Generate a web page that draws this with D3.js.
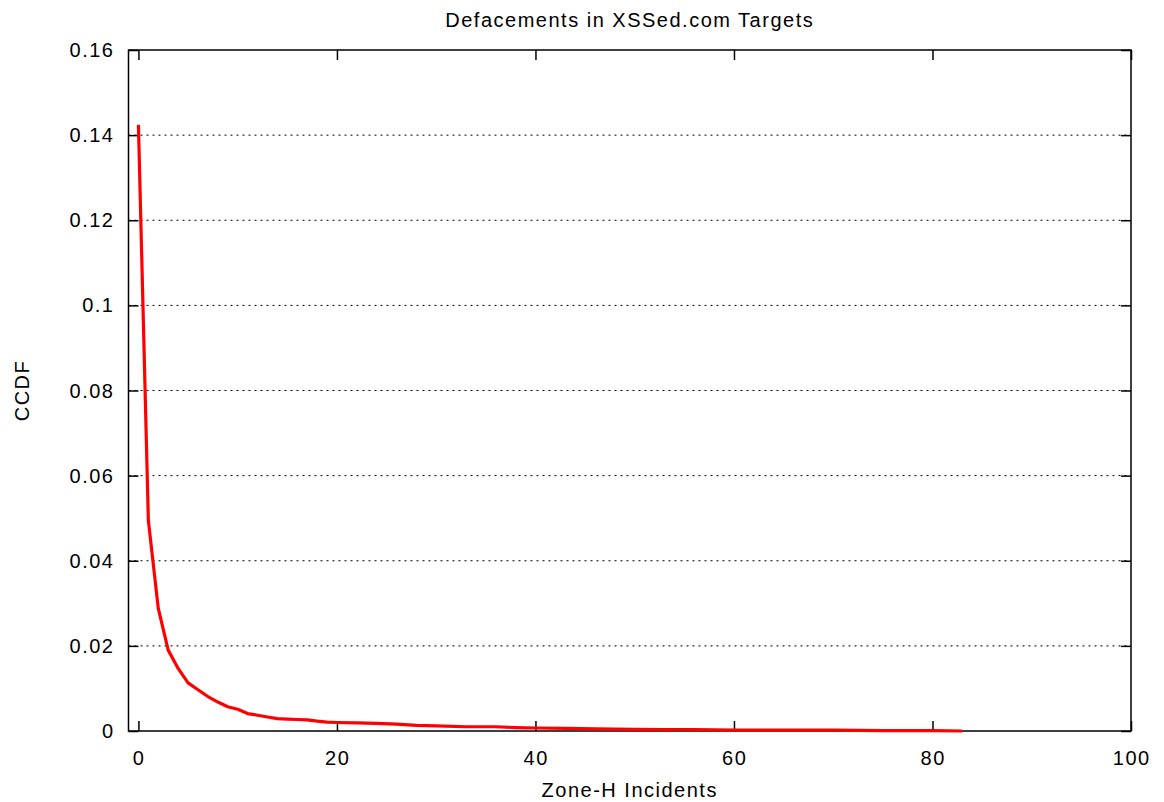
<!DOCTYPE html>
<html>
<head>
<meta charset="utf-8">
<script src="https://cdn.jsdelivr.net/npm/d3@7"></script>
<style>
  body { margin: 0; background: #fff; }
  svg text { font-family: "Liberation Sans", Arial, sans-serif; fill: #000; letter-spacing: 1.5px; }
</style>
</head>
<body>
<div id="chart"></div>
<script>
// CCDF of Zone-H incidents among XSSed.com targets
const incidents = [0, 1, 2, 3, 4, 5, 6, 7, 8, 9, 10, 11, 12, 13, 14, 15, 16, 17, 18, 19, 20,
  22, 24, 26, 28, 30, 33, 36, 38, 40, 43, 46, 50, 53, 56, 60, 65, 70, 75, 80, 83];
const ccdf = [0.1424, 0.0495, 0.0288, 0.0190, 0.0147, 0.0113, 0.0097, 0.0081, 0.0068, 0.0057, 0.0051,
  0.0041, 0.0037, 0.0033, 0.0029, 0.0028, 0.0027, 0.0026, 0.0023, 0.0021, 0.0020,
  0.0019, 0.0018, 0.0016, 0.0013, 0.0012, 0.0010, 0.0010, 0.0008, 0.0007, 0.0006, 0.0005,
  0.0004, 0.0003, 0.0003, 0.0002, 0.0002, 0.0002, 0.0001, 0.0001, 0.0000];
const xTicks = [0, 20, 40, 60, 80, 100];
const yTicks = [0, 0.02, 0.04, 0.06, 0.08, 0.1, 0.12, 0.14, 0.16];

const width = 1164, height = 802;
const margin = {top: 50, right: 33, bottom: 71, left: 128.5};
const fontSize = 20;

const svg = d3.select("#chart").append("svg")
    .attr("width", width)
    .attr("height", height);

const x = d3.scaleLinear().domain([-1, 100]).range([margin.left, width - margin.right]);
const y = d3.scaleLinear().domain([0, 0.16]).range([height - margin.bottom, margin.top]);

const fmtY = d => d === 0 ? "0" : String(+d.toFixed(2));

// horizontal dotted grid
svg.append("g")
  .selectAll("line")
  .data(yTicks.filter(d => d > 0 && d < 0.16))
  .join("line")
    .attr("x1", x(-1)).attr("x2", x(100))
    .attr("y1", d => y(d)).attr("y2", d => y(d))
    .attr("stroke", "#000")
    .attr("stroke-width", 1)
    .attr("stroke-dasharray", "2,4");

// axes, ticks pointing inward (gnuplot style)
const tickLen = 10;
const axLeft = svg.append("g").attr("transform", `translate(${x(-1)},0)`)
    .call(d3.axisRight(y).tickValues(yTicks).tickSize(tickLen).tickFormat(""));
const axRight = svg.append("g").attr("transform", `translate(${x(100)},0)`)
    .call(d3.axisLeft(y).tickValues(yTicks).tickSize(tickLen).tickFormat(""));
const axBottom = svg.append("g").attr("transform", `translate(0,${y(0)})`)
    .call(d3.axisTop(x).tickValues(xTicks).tickSize(tickLen).tickFormat(""));
const axTop = svg.append("g").attr("transform", `translate(0,${y(0.16)})`)
    .call(d3.axisBottom(x).tickValues(xTicks).tickSize(tickLen).tickFormat(""));
[axLeft, axRight, axBottom, axTop].forEach(g => {
  g.select(".domain").remove();
  g.selectAll(".tick line").attr("stroke", "#000").attr("stroke-width", 1.5);
});

// tick labels
svg.append("g")
  .selectAll("text")
  .data(yTicks)
  .join("text")
    .attr("x", x(-1) - 14)
    .attr("y", d => y(d))
    .attr("dy", "0.35em")
    .attr("text-anchor", "end")
    .style("font-size", fontSize + "px")
    .text(fmtY);

svg.append("g")
  .selectAll("text")
  .data(xTicks)
  .join("text")
    .attr("x", d => x(d) + 0.75)
    .attr("y", y(0) + 34)
    .attr("text-anchor", "middle")
    .style("font-size", fontSize + "px")
    .text(d => d);

// frame
svg.append("rect")
    .attr("x", x(-1)).attr("y", y(0.16))
    .attr("width", x(100) - x(-1))
    .attr("height", y(0) - y(0.16))
    .attr("fill", "none")
    .attr("stroke", "#000")
    .attr("stroke-width", 1.5);

// curve
const line = d3.line()
    .x((d, i) => x(incidents[i]))
    .y(d => y(d));
svg.append("path")
    .datum(ccdf)
    .attr("fill", "none")
    .attr("stroke", "#ff0000")
    .attr("stroke-width", 3.2)
    .attr("stroke-linejoin", "round")
    .attr("d", line);

// titles
const cx = (x(-1) + x(100)) / 2;
svg.append("text")
    .attr("x", cx).attr("y", 27)
    .attr("text-anchor", "middle")
    .style("font-size", fontSize + "px")
    .text("Defacements in XSSed.com Targets");

svg.append("text")
    .attr("x", cx).attr("y", 797)
    .attr("text-anchor", "middle")
    .style("font-size", fontSize + "px")
    .text("Zone-H Incidents");

svg.append("text")
    .attr("transform", `translate(29,${(y(0) + y(0.16)) / 2}) rotate(-90)`)
    .attr("text-anchor", "middle")
    .style("font-size", fontSize + "px")
    .text("CCDF");
</script>
</body>
</html>
